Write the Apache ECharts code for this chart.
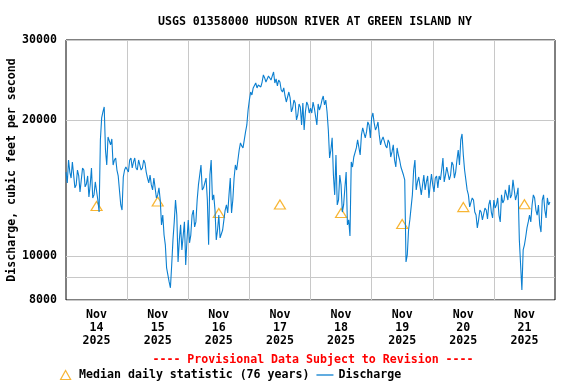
<!DOCTYPE html>
<html>
<head>
<meta charset="utf-8">
<script src="https://cdn.jsdelivr.net/npm/echarts@6/dist/echarts.min.js"></script>
<style>html,body{margin:0;padding:0;background:#fff}#c{width:576px;height:384px}</style>
</head>
<body>
<div id="c"></div>
<script>
// Discharge every 30 minutes from Nov 14 2025 00:00 (cfs), one row per half day
const dischargeCfs = [
15330,14510,16300,15330,14870,16140,16050,14150,14360,15490,15030,13860,14000,15650,15490,14220,14430,15030,13510,14360,15650,13440,13650,14580,
14510,13300,12510,18050,20190,20810,21340,17150,15890,18330,18330,17600,18140,15890,16300,16470,15490,15030,15100,12970,12640,14950,15490,15730,
15890,15330,16300,16470,15650,16140,16470,15650,15490,16300,16140,15490,15650,16300,16050,15330,14870,14510,15100,14360,14000,14870,14730,13440,
13650,14150,13300,11720,12320,11130,10590,9420,9090,8770,8510,9560,10860,11900,13300,12320,9710,10860,11720,10320,10320,11900,9560,10860,
12020,10700,11130,12320,12640,11600,11900,13300,14360,15100,15890,14000,14150,14510,14870,13300,10590,15100,16300,13300,13650,12640,10860,11420,
12320,10970,11020,11420,12020,12640,12970,12450,13650,14870,12450,13300,14870,15890,15490,16300,17150,17780,17510,17330,18050,18800,19480,21020,
22110,23030,22690,23510,23750,24110,23510,23870,23990,23630,24230,25120,24740,24230,24110,24990,25240,24480,24990,25500,24110,24610,23750,24480,
24230,23270,23030,23510,22570,21890,22110,23030,22350,20810,21230,22110,21780,19980,20490,21670,21340,19480,21780,18990,20810,21890,21560,20700,
21230,20700,21890,21230,21020,19480,21670,21020,21450,22110,22570,21560,22110,20810,18990,16470,17150,18240,15100,13650,16720,12970,13300,15100,
14360,12510,12970,14150,15330,11720,12020,11080,16140,15730,16550,16470,17330,18050,18050,16720,18520,19190,19190,18240,18800,19780,19480,18240,
20190,20700,19680,18990,19280,19780,18520,17600,18050,18330,18330,17510,17330,18050,17780,16550,16980,17600,16300,15730,17330,16720,16300,15730,
15890,15100,14730,9710,10060,11420,12020,11900,13650,15490,16300,14000,14580,14950,14870,13650,14360,15100,14000,14580,15030,13440,14360,15180,
14360,13860,14870,15030,14150,15030,14730,15490,16470,14580,15100,15730,15650,14730,15100,16140,15890,14870,15330,16300,17150,15890,18050,18610,
16720,15490,14730,14000,13650,12840,12970,13440,13300,12510,12320,11540,12020,12640,12510,12020,12140,12770,12640,12080,12970,13300,12510,12140,
13300,12770,12970,13440,12320,11900,13650,13100,13300,14000,14000,13300,14360,13440,13650,14730,14870,13300,13650,14150,10860,9560,8420,10320,
10590,11020,11540,11900,12320,11900,12970,13650,13440,12640,12320,12970,11720,11300,13300,13650,12640,12140,13440,12970,13170
];
const STEP_HOURS = 0.5;
const medianCfs = [12900, 13200, 12450, 13000, 12450, 11770, 12830, 13020];
const dayLabels = ['Nov\n14\n2025','Nov\n15\n2025','Nov\n16\n2025','Nov\n17\n2025','Nov\n18\n2025','Nov\n19\n2025','Nov\n20\n2025','Nov\n21\n2025'];
const yTickValues = [8000, 9000, 10000, 20000, 30000];
const yLabelValues = [8000, 10000, 20000, 30000];

const HOURS_PER_DAY = 24;
const dayBounds = dayLabels.map((_, i) => i * HOURS_PER_DAY).slice(1);
const dayNoons = dayLabels.map((_, i) => i * HOURS_PER_DAY + 12);
const lineData = dischargeCfs.map((v, i) => [i * STEP_HOURS, v]);
const medianData = medianCfs.map((v, i) => [i * HOURS_PER_DAY + 12, v]);

const FONT = '"DejaVu Sans Mono", "Liberation Mono", monospace';
const FS = 11.6;
const chart = echarts.init(document.getElementById('c'), null, {renderer: 'canvas'});
chart.setOption({
  animation: false,
  backgroundColor: '#fff',
  title: [{
    text: 'USGS 01358000 HUDSON RIVER AT GREEN ISLAND NY',
    left: 310, top: 11, textAlign: 'center',
    textStyle: {fontFamily: FONT, fontSize: FS, fontWeight: 'bold', color: '#000'}
  }, {
    text: '---- Provisional Data Subject to Revision ----',
    left: 308, top: 349, textAlign: 'center',
    textStyle: {fontFamily: FONT, fontSize: FS, fontWeight: 'bold', color: '#ff0000'}
  }],
  legend: {
    left: 55, top: 364, itemWidth: 17, itemHeight: 9, itemGap: 7,
    textStyle: {fontFamily: FONT, fontSize: FS, fontWeight: 'bold', color: '#000'},
    data: [
      {name: 'Median daily statistic (76 years)', icon: 'path://M5,0L10,9L0,9Z',
       itemStyle: {color: 'rgba(0,0,0,0)', borderColor: '#f5a300', borderWidth: 1.2}},
      {name: 'Discharge', icon: 'path://M0,0H17V1.3H0Z',
       itemStyle: {color: '#0b7fd0', borderWidth: 0}}
    ]
  },
  grid: {left: 66, right: 21, top: 40, bottom: 84, outerBoundsMode: 'none', containLabel: false,
         show: true, borderColor: '#000', borderWidth: 1, backgroundColor: 'transparent'},
  xAxis: {
    type: 'value', min: 0, max: dayLabels.length * HOURS_PER_DAY,
    axisLine: {show: false},
    axisTick: {show: false, customValues: dayBounds},
    splitLine: {show: true, lineStyle: {color: '#c8c8c8', width: 1}},
    axisLabel: {
      customValues: dayNoons, margin: 8, lineHeight: 13,
      fontFamily: FONT, fontSize: FS, fontWeight: 'bold', color: '#000',
      formatter: v => dayLabels[Math.floor(v / HOURS_PER_DAY)]
    }
  },
  yAxis: {
    type: 'log', logBase: 10, min: 8000, max: 30000,
    name: 'Discharge, cubic feet per second', nameLocation: 'middle', nameGap: 48,
    nameMoveOverlap: false,
    nameTextStyle: {fontFamily: FONT, fontSize: FS, fontWeight: 'bold', color: '#000'},
    axisLine: {show: false},
    axisTick: {show: false, customValues: yTickValues},
    splitLine: {show: true, lineStyle: {color: '#c8c8c8', width: 1}},
    axisLabel: {
      customValues: yLabelValues, margin: 9,
      fontFamily: FONT, fontSize: FS, fontWeight: 'bold', color: '#000',
      formatter: v => String(Math.round(v))
    }
  },
  series: [{
    name: 'Median daily statistic (76 years)', type: 'scatter', z: 1,
    symbol: 'triangle', symbolSize: [11, 9], data: medianData,
    itemStyle: {color: 'rgba(0,0,0,0)', borderColor: '#f5a300', borderWidth: 1.2}
  }, {
    name: 'Discharge', type: 'line', z: 2, symbol: 'none', data: lineData,
    lineStyle: {color: '#0b7fd0', width: 1.1}, itemStyle: {color: '#0b7fd0'}
  }]
});
</script>
</body>
</html>
